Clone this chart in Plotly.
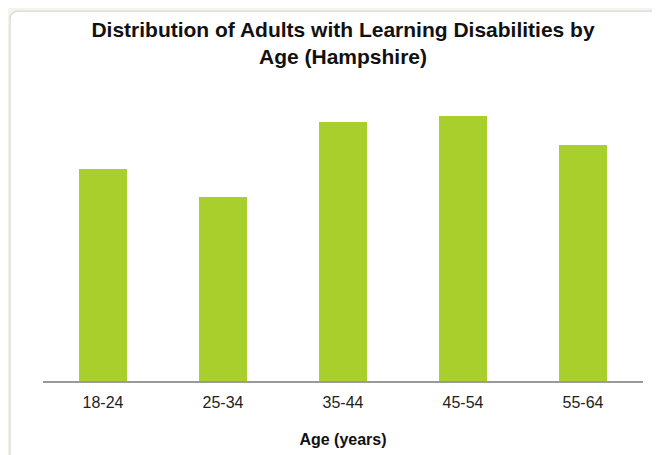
import plotly.graph_objects as go

age_groups = ["18-24", "25-34", "35-44", "45-54", "55-64"]
adults = [212, 184, 259, 265, 236]

fig = go.Figure()
fig.add_trace(go.Bar(
    x=age_groups, y=adults,
    marker=dict(color="#a8cf2b", line=dict(width=0)),
    hoverinfo="x+y",
))

# card background (decorative)
fig.add_shape(
    type="path", xref="paper", yref="paper", layer="below",
    path="M -0.055,-0.5 L -0.055,1.205 Q -0.055,1.233 -0.04,1.233 L 1.2,1.233 L 1.2,-0.5 Z",
    fillcolor="white", line=dict(color="#d6d6d2", width=1.2),
)

fig.update_layout(
    width=652, height=447,
    paper_bgcolor="#f4f4ef",
    plot_bgcolor="rgba(0,0,0,0)",
    margin=dict(l=35, r=17, t=73, b=74),
    bargap=0.6,
    showlegend=False,
    title=dict(
        text="<b>Distribution of Adults with Learning Disabilities by<br>Age (Hampshire)</b>",
        x=0.5, xref="paper", xanchor="center",
        y=0.935, yanchor="top",
        font=dict(family="Liberation Sans, Arial, sans-serif", size=21, color="#111"),
    ),
    font=dict(family="Liberation Sans, Arial, sans-serif"),
)
fig.update_xaxes(
    automargin=False,
    showline=True, linecolor="#9a9a9a", linewidth=2,
    showgrid=False, ticks="",
    ticklabelstandoff=6,
    tickfont=dict(size=16, color="#222"),
    title=dict(text="<b>Age (years)</b>", font=dict(size=16, color="#111"), standoff=24),
)
fig.update_yaxes(visible=False, range=[0, 300])

fig.write_html("out.html")
